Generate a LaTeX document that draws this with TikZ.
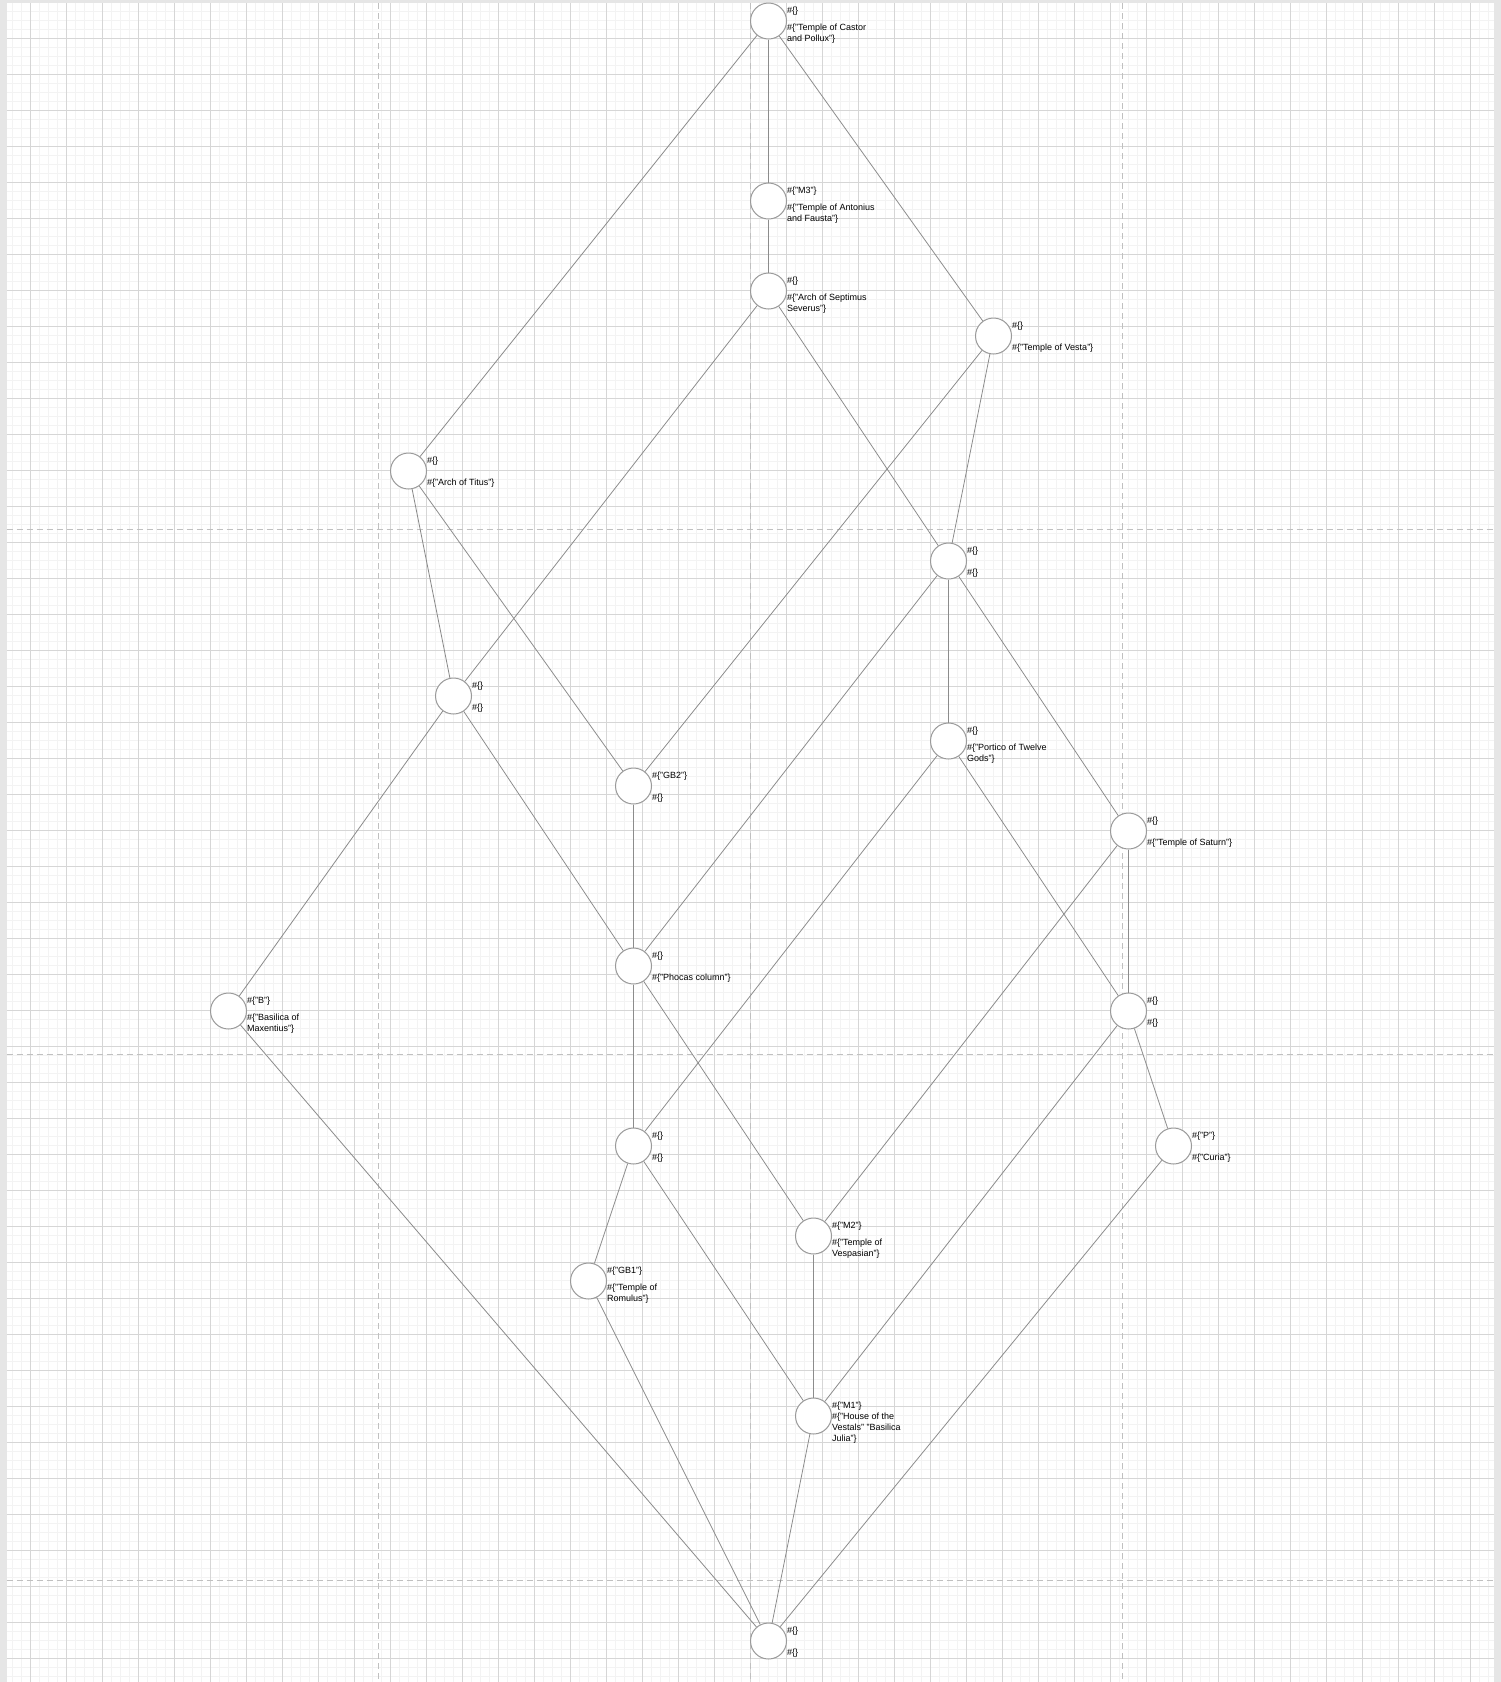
\documentclass[tikz,border=0pt]{standalone}
\usepackage{fontspec}
\setmainfont{Liberation Sans}
\definecolor{canvas}{HTML}{E6E6E6}
\definecolor{minorline}{HTML}{F3F3F3}
\definecolor{majorline}{HTML}{D6D6D6}
\definecolor{breakline}{HTML}{C0C0C0}
\definecolor{edgegray}{HTML}{8C8C8C}
\definecolor{ringgray}{HTML}{9A9A9A}
\newcommand\nolab{\#\{\}}
\newcommand\lab[1]{\#\{"#1"\}}
\tikzset{
  place/.style={circle, draw=ringgray, fill=white, line width=1pt, minimum size=36pt, inner sep=0pt},
  lbl/.style={anchor=west, xshift=18.5pt, inner sep=0pt, align=left, font=\fontsize{9}{11}\selectfont},
  tag/.style={lbl, yshift=9.5pt},
  note/.style={lbl, yshift=-12.5pt},
  wire/.style={draw=edgegray, line width=0.8pt},
  stem/.style={wire, line width=1.5pt},
  pagebreak/.style={draw=breakline, line width=1.2pt, dash pattern=on 6pt off 4pt}
}

\begin{document}
\begin{tikzpicture}[x=1pt, y=-1pt]
      \useasboundingbox (0,0) rectangle (1501,1682);
      % canvas and page
      \fill[canvas] (0,0) rectangle (1501,1682);
      \fill[white] (6.5,3) rectangle (1494,1682);
      \begin{scope}[shift={(3,2)}]
        \draw[minorline, line width=1pt, step=9pt] (3.5,1) grid (1491,1680);
      \end{scope}
      \begin{scope}[shift={(30,2)}]
        \draw[majorline, line width=1pt, step=36pt] (-23.5,1) grid (1464,1680);
      \end{scope}
      % page breaks
      \draw[pagebreak] (378.7,3) -- (378.7,1682);
      \draw[pagebreak] (750.7,3) -- (750.7,1682);
      \draw[pagebreak] (1122.7,3) -- (1122.7,1682);
      \draw[pagebreak] (6.5,529.3) -- (1494,529.3);
      \draw[pagebreak] (6.5,1054.3) -- (1494,1054.3);
      \draw[pagebreak] (6.5,1580.5) -- (1494,1580.5);

      % lattice nodes
      \node[place] (castor)    at (768.5,21)   {};
      \node[place] (antonius)  at (768.5,201)  {};
      \node[place] (septimus)  at (768.5,291)  {};
      \node[place] (vesta)     at (993.5,336)  {};
      \node[place] (titus)     at (408.5,471)  {};
      \node[place] (midA)      at (948.5,561)  {};
      \node[place] (midB)      at (453.5,696)  {};
      \node[place] (portico)   at (948.5,741)  {};
      \node[place] (gbtwo)     at (633.5,786)  {};
      \node[place] (saturn)    at (1128.5,831) {};
      \node[place] (phocas)    at (633.5,966)  {};
      \node[place] (maxentius) at (228.5,1011) {};
      \node[place] (midC)      at (1128.5,1011) {};
      \node[place] (midD)      at (633.5,1146) {};
      \node[place] (curia)     at (1173.5,1146) {};
      \node[place] (vespasian) at (813.5,1236) {};
      \node[place] (romulus)   at (588.5,1281) {};
      \node[place] (vestals)   at (813.5,1416) {};
      \node[place] (bottom)    at (768.5,1641) {};

      % labels
      \node[tag]  (castor-t)    at (castor)    {\nolab};
      \node[note] (castor-n)    at (castor)    {\#\{"Temple of Castor\\and Pollux"\}};
      \node[tag]  (antonius-t)  at (antonius)  {\lab{M3}};
      \node[note] (antonius-n)  at (antonius)  {\#\{"Temple of Antonius\\and Fausta"\}};
      \node[tag]  (septimus-t)  at (septimus)  {\nolab};
      \node[note] (septimus-n)  at (septimus)  {\#\{"Arch of Septimus\\Severus"\}};
      \node[tag]  (vesta-t)     at (vesta)     {\nolab};
      \node[note] (vesta-n)     at (vesta)     {\lab{Temple of Vesta}};
      \node[tag]  (titus-t)     at (titus)     {\nolab};
      \node[note] (titus-n)     at (titus)     {\lab{Arch of Titus}};
      \node[tag]  (midA-t)      at (midA)      {\nolab};
      \node[note] (midA-n)      at (midA)      {\nolab};
      \node[tag]  (midB-t)      at (midB)      {\nolab};
      \node[note] (midB-n)      at (midB)      {\nolab};
      \node[tag]  (portico-t)   at (portico)   {\nolab};
      \node[note] (portico-n)   at (portico)   {\#\{"Portico of Twelve\\Gods"\}};
      \node[tag]  (gbtwo-t)     at (gbtwo)     {\lab{GB2}};
      \node[note] (gbtwo-n)     at (gbtwo)     {\nolab};
      \node[tag]  (saturn-t)    at (saturn)    {\nolab};
      \node[note] (saturn-n)    at (saturn)    {\lab{Temple of Saturn}};
      \node[tag]  (phocas-t)    at (phocas)    {\nolab};
      \node[note] (phocas-n)    at (phocas)    {\lab{Phocas column}};
      \node[tag]  (maxentius-t) at (maxentius) {\lab{B}};
      \node[note] (maxentius-n) at (maxentius) {\#\{"Basilica of\\Maxentius"\}};
      \node[tag]  (midC-t)      at (midC)      {\nolab};
      \node[note] (midC-n)      at (midC)      {\nolab};
      \node[tag]  (midD-t)      at (midD)      {\nolab};
      \node[note] (midD-n)      at (midD)      {\nolab};
      \node[tag]  (curia-t)     at (curia)     {\lab{P}};
      \node[note] (curia-n)     at (curia)     {\lab{Curia}};
      \node[tag]  (vespasian-t) at (vespasian) {\lab{M2}};
      \node[note] (vespasian-n) at (vespasian) {\#\{"Temple of\\Vespasian"\}};
      \node[tag]  (romulus-t)   at (romulus)   {\lab{GB1}};
      \node[note] (romulus-n)   at (romulus)   {\#\{"Temple of\\Romulus"\}};
      \node[tag]  (vestals-t)   at (vestals)   {\lab{M1}};
      \node[note] (vestals-n)   at (vestals)   {\#\{"House of the\\Vestals" "Basilica\\Julia"\}};
      \node[tag]  (bottom-t)    at (bottom)    {\nolab};
      \node[note] (bottom-n)    at (bottom)    {\nolab};

      % covering edges
      \draw[stem] (castor) -- (antonius);
      \draw[wire] (castor) -- (titus);
      \draw[wire] (castor) -- (vesta);
      \draw[stem] (antonius) -- (septimus);
      \draw[wire] (septimus) -- (midB);
      \draw[wire] (septimus) -- (midA);
      \draw[wire] (vesta) -- (gbtwo);
      \draw[wire] (vesta) -- (midA);
      \draw[wire] (titus) -- (midB);
      \draw[wire] (titus) -- (gbtwo);
      \draw[stem] (midA) -- (portico);
      \draw[wire] (midA) -- (phocas);
      \draw[wire] (midA) -- (saturn);
      \draw[wire] (midB) -- (maxentius);
      \draw[wire] (midB) -- (phocas);
      \draw[wire] (portico) -- (midD);
      \draw[wire] (portico) -- (midC);
      \draw[stem] (gbtwo) -- (phocas);
      \draw[stem] (saturn) -- (midC);
      \draw[wire] (saturn) -- (vespasian);
      \draw[stem] (phocas) -- (midD);
      \draw[wire] (phocas) -- (vespasian);
      \draw[wire] (maxentius) -- (bottom);
      \draw[wire] (midC) -- (curia);
      \draw[wire] (midC) -- (vestals);
      \draw[wire] (midD) -- (romulus);
      \draw[wire] (midD) -- (vestals);
      \draw[stem] (vespasian) -- (vestals);
      \draw[wire] (romulus) -- (bottom);
      \draw[wire] (vestals) -- (bottom);
      \draw[wire] (curia) -- (bottom);
\end{tikzpicture}
\end{document}
